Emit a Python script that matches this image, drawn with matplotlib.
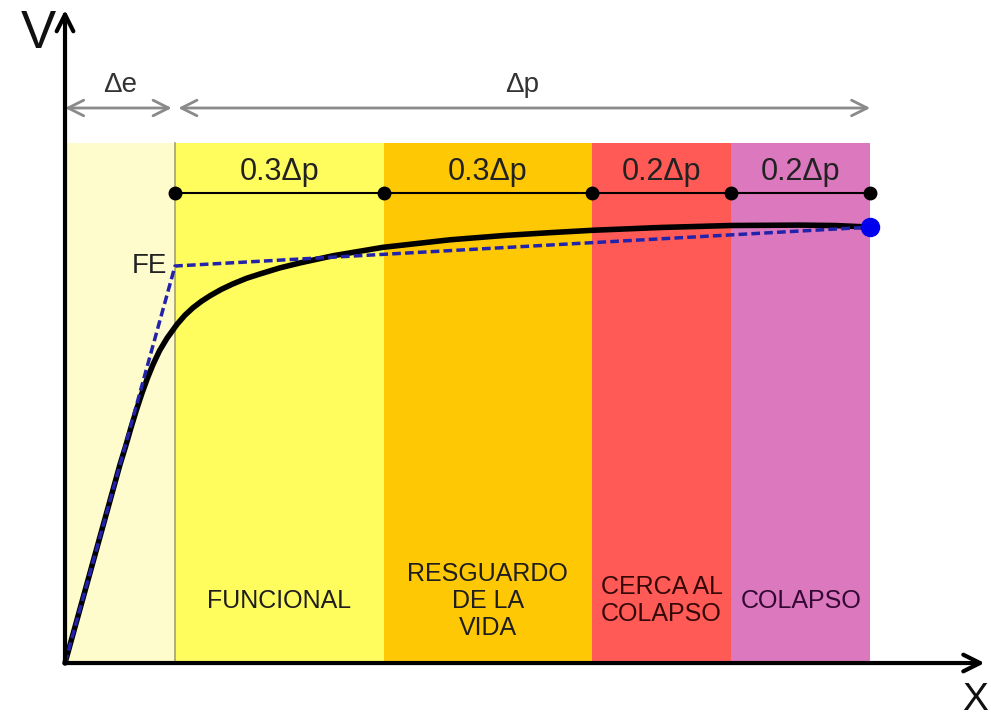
import matplotlib.pyplot as plt
import numpy as np

# ---- data ----------------------------------------------------------------
delta_e = 1.0            # elastic displacement (FE)
delta_p = 6.32           # plastic displacement
fractions = [0.3, 0.3, 0.2, 0.2]
frac_labels = ["0.3Δp", "0.3Δp", "0.2Δp", "0.2Δp"]
zone_names = ["FUNCIONAL", "RESGUARDO\nDE LA\nVIDA", "CERCA AL\nCOLAPSO", "COLAPSO"]
zone_colors = ["#FFFC5E", "#FFC805", "#FF5A55", "#DC78BE"]
zone_text_colors = ["#1e1e1e", "#1e1e1e", "#350808", "#330833"]

# capacity curve (black)
curve_x = [0.0, 0.30, 0.50, 0.55, 0.60, 0.65, 0.70, 0.75, 0.80, 0.86, 0.927, 1.018,
           1.09, 1.164, 1.24, 1.318, 1.42, 1.527, 1.65, 1.773, 1.95, 2.14, 2.44,
           2.89, 3.50, 4.00, 4.41, 4.80, 5.41, 6.05, 6.68, 7.00, 7.32]
curve_v = [0.0, 0.30, 0.50, 0.545, 0.593, 0.638, 0.680, 0.718, 0.752, 0.787, 0.818,
           0.853, 0.876, 0.895, 0.911, 0.925, 0.941, 0.955, 0.969, 0.980, 0.995,
           1.008, 1.026, 1.047, 1.066, 1.077, 1.084, 1.090, 1.097, 1.102, 1.103,
           1.102, 1.098]

# bilinear idealisation (blue dashed)
bilin_x = [0.0, 1.0, 7.32]
bilin_v = [0.0, 1.0, 1.098]

# ---- figure --------------------------------------------------------------
fig = plt.figure(figsize=(9.91, 7.19), dpi=100)
ax = fig.add_axes([0, 0, 1, 1])
ax.set_xlim(-0.591, 8.418)
ax.set_ylim(-0.141, 1.670)
ax.axis("off")

band_top = 1.31
edges = np.concatenate([[0.0, delta_e], delta_e + delta_p * np.cumsum(fractions)])

# elastic zone + performance zones
ax.bar(0.0, band_top, width=delta_e, align="edge", color="#FEFBCD", zorder=1)
ax.bar(edges[1:-1], band_top, width=np.diff(edges[1:]), align="edge",
       color=zone_colors, zorder=1)
ax.plot([delta_e, delta_e], [0, band_top], color="#A8A070", lw=1.2, zorder=2)

for i, name in enumerate(zone_names):
    xm = (edges[i + 1] + edges[i + 2]) / 2
    ax.text(xm, 0.157, name, ha="center", va="center", fontsize=18,
            family="Liberation Sans", color=zone_text_colors[i],
            linespacing=1.15, zorder=5)

# dimension row with black dots
row_y = 1.184
ax.plot([edges[1], edges[-1]], [row_y, row_y], color="black", lw=1.5, zorder=4)
ax.plot(edges[1:], [row_y] * len(edges[1:]), "o", color="black", ms=9, zorder=5)
for i, lab in enumerate(frac_labels):
    xm = (edges[i + 1] + edges[i + 2]) / 2
    ax.text(xm, 1.238, lab, ha="center", va="center", fontsize=22,
            family="Liberation Sans", color="#222222", zorder=5)

# top gray dimension arrows
arr_y = 1.398
gray = "#8a8a8a"
ax.annotate("", xy=(0.0, arr_y), xytext=(delta_e - 0.03, arr_y),
            arrowprops=dict(arrowstyle="<->", color=gray, lw=2, mutation_scale=28,
                            shrinkA=0, shrinkB=0))
ax.annotate("", xy=(delta_e + 0.03, arr_y), xytext=(edges[-1], arr_y),
            arrowprops=dict(arrowstyle="<->", color=gray, lw=2, mutation_scale=28,
                            shrinkA=0, shrinkB=0))
ax.text(delta_e / 2, 1.455, "Δe", ha="center", va="center", fontsize=20,
        family="Liberation Sans", color="#333333")
ax.text(delta_e + delta_p / 2, 1.455, "Δp", ha="center", va="center", fontsize=20,
        family="Liberation Sans", color="#333333")

# curves
ax.plot(curve_x, curve_v, color="black", lw=4, solid_capstyle="round",
        solid_joinstyle="round", zorder=6)
ax.plot(bilin_x, bilin_v, color="#2222AA", lw=2.5, ls=(0, (2.5, 1.2)), zorder=7)
ax.plot(bilin_x[-1], bilin_v[-1], "o", color="#0000EE", ms=13, zorder=8)
ax.text(0.93, 1.0, "FE", ha="right", va="center", fontsize=20,
        family="Liberation Sans", color="#222222", zorder=8)

# axes with arrows
ax.annotate("", xy=(0, 1.645), xytext=(0, 0),
            arrowprops=dict(arrowstyle="->", color="black", lw=3, mutation_scale=30,
                            shrinkA=0, shrinkB=0), zorder=9)
ax.annotate("", xy=(8.36, 0), xytext=(0, 0),
            arrowprops=dict(arrowstyle="->", color="black", lw=3, mutation_scale=30,
                            shrinkA=0, shrinkB=0), zorder=9)
ax.text(-0.245, 1.585, "V", ha="center", va="center", fontsize=38,
        family="Liberation Sans", color="#111111")
ax.text(8.27, -0.048, "X", ha="center", va="top", fontsize=28,
        family="Liberation Sans", color="#111111")

fig.savefig("out.png", dpi=100)
